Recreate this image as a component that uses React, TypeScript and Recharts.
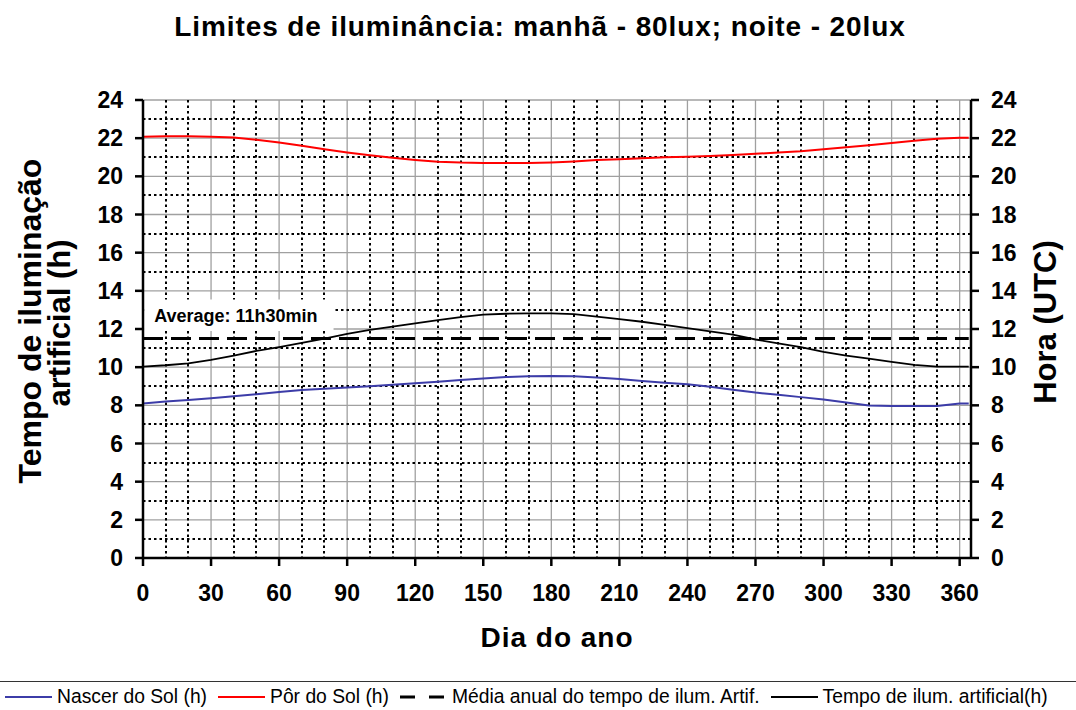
import { ComposedChart, Line, XAxis, YAxis, CartesianGrid, ReferenceArea } from "recharts";

// dia do ano
const days = [
  0, 10, 20, 30, 40, 50, 60, 70, 80, 90, 100, 110, 120, 130, 140, 150, 160, 170, 180,
  190, 200, 210, 220, 230, 240, 250, 260, 270, 280, 290, 300, 310, 320, 330, 340, 350, 360, 364,
];

// Nascer do Sol (h)
const sunrise = [
  8.1, 8.2, 8.28, 8.37, 8.47, 8.58, 8.7, 8.8, 8.87, 8.93, 9.0, 9.08, 9.16, 9.24, 9.33, 9.41, 9.48, 9.52, 9.54,
  9.52, 9.46, 9.38, 9.28, 9.18, 9.1, 8.97, 8.82, 8.67, 8.55, 8.43, 8.3, 8.15, 7.99, 7.97, 7.97, 7.97, 8.1, 8.1,
];

// Pôr do Sol (h)
const sunset = [
  22.08, 22.1, 22.1, 22.08, 22.03, 21.92, 21.77, 21.6, 21.42, 21.25, 21.1, 20.97, 20.86, 20.77, 20.72, 20.7, 20.7, 20.7, 20.73,
  20.78, 20.85, 20.9, 20.95, 21.0, 21.03, 21.07, 21.12, 21.18, 21.25, 21.32, 21.42, 21.52, 21.63, 21.75, 21.87, 21.97, 22.02, 22.02,
];

// Tempo de ilum. artificial (h)
const artificial = [
  10.03, 10.1, 10.2, 10.38, 10.6, 10.85, 11.05, 11.27, 11.5, 11.75, 11.95, 12.12, 12.3, 12.47, 12.62, 12.75, 12.8, 12.82, 12.82,
  12.78, 12.65, 12.52, 12.38, 12.22, 12.05, 11.88, 11.7, 11.45, 11.25, 11.05, 10.8, 10.6, 10.45, 10.28, 10.12, 10.03, 10.03, 10.03,
];

// média anual (11h30min)
const avgDays = [0, 364];
const avgValues = [11.5, 11.5];

const xTicks = [0, 30, 60, 90, 120, 150, 180, 210, 240, 270, 300, 330, 360];
const yTicks = [0, 2, 4, 6, 8, 10, 12, 14, 16, 18, 20, 22, 24];
const xMinor = [10, 20, 40, 50, 70, 80, 100, 110, 130, 140, 160, 170, 190, 200, 220, 230, 250, 260, 280, 290, 310, 320, 340, 350];
const yMinor = [1, 3, 5, 7, 9, 11, 13, 15, 17, 19, 21, 23];

const data = days.map((d, i) => ({
  day: d,
  nascer: sunrise[i],
  por: sunset[i],
  tempo: artificial[i],
}));
const avgData = avgDays.map((d, i) => ({ day: d, media: avgValues[i] }));

const BLUE = "#3c3ca8";
const RED = "#ff0000";
const GRID = "#a0a0a0";

const tickStyle = { fontSize: 23, fontWeight: "bold", fill: "#000" };
const axisStroke = { stroke: "#000", strokeWidth: 2.5 };

// usa a escala do eixo para posicionar a grade secundária
const applyScale = (axis: any, v: number) => {
  const s = axis?.scale;
  if (typeof s === "function") return Math.round(s(v));
  if (s && typeof s.map === "function") return Math.round(s.map(v));
  return 0;
};

const legendItems = [
  { label: "Nascer do Sol (h)", color: BLUE, dash: undefined, width: 2 },
  { label: "Pôr do Sol (h)", color: RED, dash: undefined, width: 2 },
  { label: "Média anual do tempo de ilum. Artif.", color: "#000", dash: "15 14", width: 3 },
  { label: "Tempo de ilum. artificial(h)", color: "#000", dash: undefined, width: 2 },
];

export default function App() {
  return (
    <div
      style={{
        position: "absolute",
        left: 0,
        top: 0,
        width: 1076,
        height: 710,
        background: "#fff",
        fontFamily: "'Liberation Sans', Arial, sans-serif",
      }}
    >
      <ComposedChart width={1076} height={710} margin={{ top: 100, right: 45, bottom: 112, left: 83 }}>
        <XAxis
          dataKey="day"
          type="number"
          domain={[0, 365]}
          ticks={xTicks}
          allowDataOverflow
          height={40}
          tickSize={8}
          tickMargin={19}
          tick={tickStyle}
          axisLine={axisStroke}
          tickLine={axisStroke}
        />
        <YAxis
          yAxisId="left"
          orientation="left"
          type="number"
          domain={[0, 24]}
          ticks={yTicks}
          width={60}
          tickSize={8}
          tickMargin={12}
          tick={tickStyle}
          axisLine={axisStroke}
          tickLine={axisStroke}
        />
        <YAxis
          yAxisId="right"
          orientation="right"
          type="number"
          domain={[0, 24]}
          ticks={yTicks}
          width={60}
          tickSize={8}
          tickMargin={12}
          tick={{ ...tickStyle, textAnchor: "start" }}
          axisLine={axisStroke}
          tickLine={axisStroke}
        />

        {/* grade principal (cinza) */}
        <CartesianGrid yAxisId="left" stroke={GRID} strokeWidth={1.3} />
        {/* grade secundária (pontilhada) */}
        <CartesianGrid
          yAxisId="left"
          stroke="#000"
          strokeWidth={2}
          strokeDasharray="2.5 3"
          verticalCoordinatesGenerator={({ xAxis }: any) => xMinor.map((v) => applyScale(xAxis, v))}
          horizontalCoordinatesGenerator={({ yAxis }: any) => yMinor.map((v) => applyScale(yAxis, v))}
        />

        <ReferenceArea
          yAxisId="left"
          x1={0.5}
          x2={84}
          y1={11.9}
          y2={13.55}
          fill="#fff"
          fillOpacity={1}
          stroke="none"
          label={{
            value: "Average: 11h30min",
            position: "insideLeft",
            offset: 10,
            fill: "#000",
            fontSize: 18,
            fontWeight: "bold",
          }}
        />

        <Line
          yAxisId="left"
          data={avgData}
          dataKey="media"
          stroke="#000"
          strokeWidth={3}
          strokeDasharray="20 8"
          dot={false}
          isAnimationActive={false}
        />
        <Line
          yAxisId="left"
          data={data}
          dataKey="tempo"
          stroke="#000"
          strokeWidth={1.8}
          dot={false}
          isAnimationActive={false}
        />
        <Line
          yAxisId="right"
          data={data}
          dataKey="nascer"
          stroke={BLUE}
          strokeWidth={2}
          dot={false}
          isAnimationActive={false}
        />
        <Line
          yAxisId="right"
          data={data}
          dataKey="por"
          stroke={RED}
          strokeWidth={2}
          dot={false}
          isAnimationActive={false}
        />
      </ComposedChart>

      <svg width={1076} height={710} style={{ position: "absolute", left: 0, top: 0, pointerEvents: "none" }}>
        <text x={540} y={36} textAnchor="middle" fontSize={28} fontWeight="bold" letterSpacing={0.9}>
          Limites de iluminância: manhã - 80lux; noite - 20lux
        </text>
        <text x={557} y={647} textAnchor="middle" fontSize={28} fontWeight="bold" letterSpacing={1}>
          Dia do ano
        </text>
        <text x={41} y={321} textAnchor="middle" fontSize={32} fontWeight="bold" transform="rotate(-90 41 321)">
          Tempo de iluminação
        </text>
        <text x={70} y={323} textAnchor="middle" fontSize={31} fontWeight="bold" transform="rotate(-90 70 323)">
          artificial (h)
        </text>
        <text x={1056} y={322} textAnchor="middle" fontSize={31} fontWeight="bold" transform="rotate(-90 1056 322)">
          Hora (UTC)
        </text>
      </svg>

      <div
        style={{
          position: "absolute",
          left: 0,
          top: 681,
          width: 1076,
          height: 31,
          boxSizing: "border-box",
          borderTop: "1.5px solid #333",
          paddingLeft: 5,
          display: "flex",
          alignItems: "center",
          justifyContent: "flex-start",
          gap: 11,
          fontSize: 19.3,
          color: "#000",
        }}
      >
        {legendItems.map((it) => (
          <div key={it.label} style={{ display: "flex", alignItems: "center", gap: 5 }}>
            <svg width={47} height={6}>
              <line x1={0} y1={3} x2={47} y2={3} stroke={it.color} strokeWidth={it.width} strokeDasharray={it.dash} />
            </svg>
            <span>{it.label}</span>
          </div>
        ))}
      </div>
    </div>
  );
}
